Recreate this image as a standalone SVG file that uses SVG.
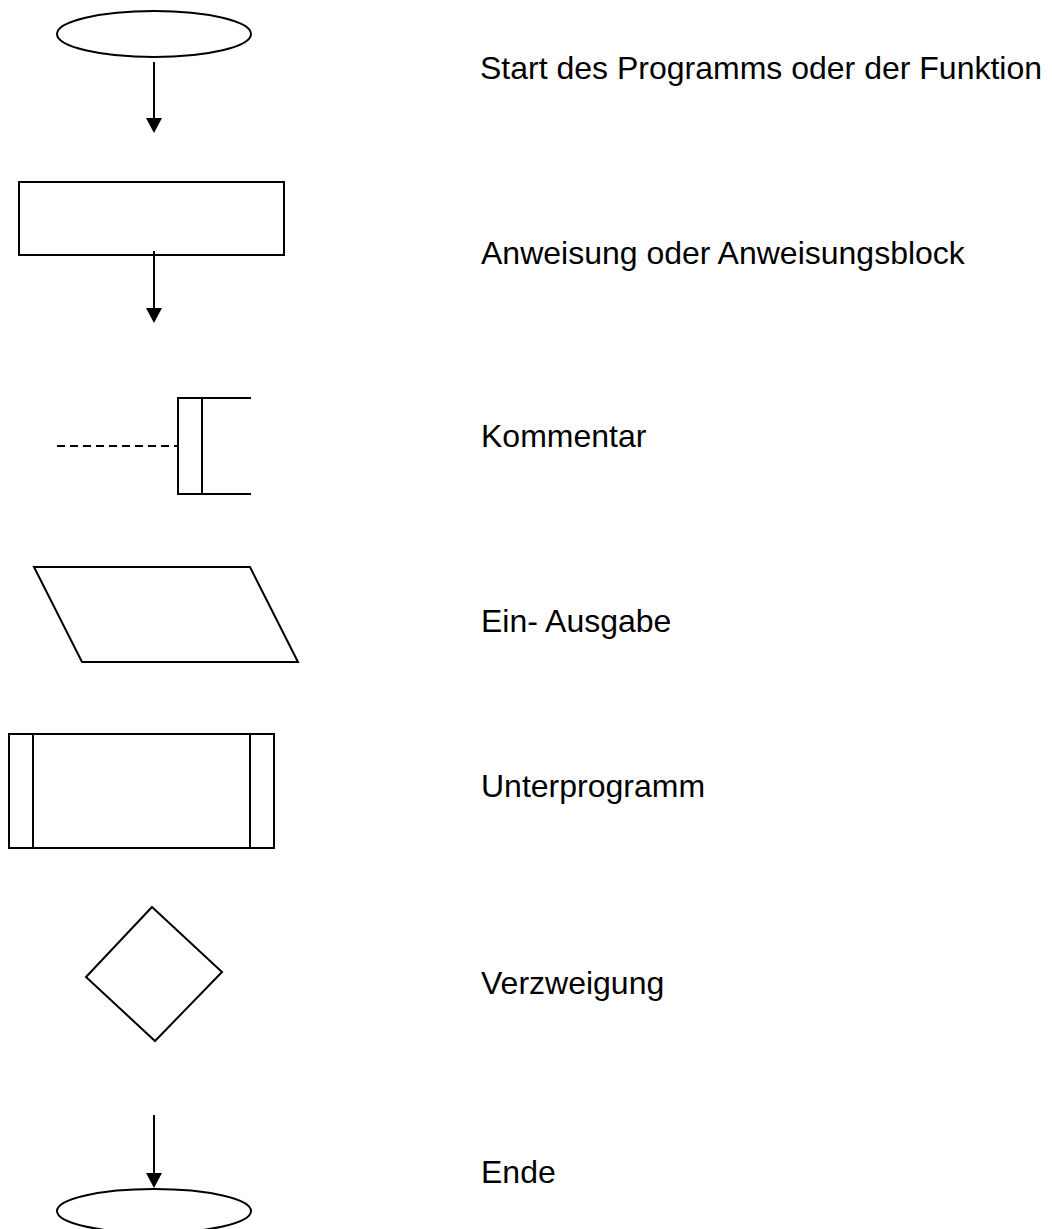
<svg xmlns="http://www.w3.org/2000/svg" width="1052" height="1229" viewBox="0 0 1052 1229">
  <style>
    .shape { fill: #ffffff; stroke: #000000; stroke-width: 2; }
    .line { fill: none; stroke: #000000; stroke-width: 2; }
    .dash { fill: none; stroke: #000000; stroke-width: 2; stroke-dasharray: 8 5; }
    .label { font-family: "Liberation Sans", Arial, sans-serif; font-size: 32px; fill: #000000; }
  </style>
  <defs>
    <!-- filled arrowhead; tip sits 4px beyond the line end -->
    <marker id="arrowhead" markerUnits="userSpaceOnUse" markerWidth="16" markerHeight="16" refX="11" refY="8" orient="auto" viewBox="0 0 16 16">
      <path d="M0,0 L15,8 L0,16 Z" fill="#000000"/>
    </marker>
  </defs>
  <rect x="0" y="0" width="1052" height="1229" fill="#ffffff"/>

  <!-- Start -->
  <g id="start">
    <ellipse class="shape" cx="154" cy="34" rx="97" ry="23"/>
  </g>

  <!-- Anweisung -->
  <g id="statement">
    <rect class="shape" x="19" y="182" width="265" height="73"/>
  </g>

  <!-- Kommentar -->
  <g id="comment">
    <path class="line" d="M251,398 H178 V494 H251 M202,398 V494"/>
  </g>

  <!-- Ein-/Ausgabe -->
  <g id="io">
    <polygon class="shape" points="34,567 250,567 298,662 82,662"/>
  </g>

  <!-- Unterprogramm -->
  <g id="subroutine">
    <rect class="shape" x="9" y="734" width="265" height="114"/>
    <path class="line" d="M33,734 V848 M250,734 V848"/>
  </g>

  <!-- Verzweigung -->
  <g id="decision">
    <polygon class="shape" points="152,907 222,972 155,1041 86,977"/>
  </g>

  <!-- Ende -->
  <g id="end">
    <ellipse class="shape" cx="154" cy="1211" rx="97" ry="22"/>
  </g>

  <!-- Verbindungen -->
  <g id="connectors">
    <line class="line" x1="154" y1="62" x2="154" y2="129" marker-end="url(#arrowhead)"/>
    <line class="line" x1="154" y1="251" x2="154" y2="319" marker-end="url(#arrowhead)"/>
    <line class="dash" x1="57" y1="446" x2="177" y2="446"/>
    <line class="line" x1="154" y1="1115" x2="154" y2="1184" marker-end="url(#arrowhead)"/>
  </g>

  <!-- Beschriftungen -->
  <g id="labels">
    <text class="label" x="480" y="79">Start des Programms oder der Funktion</text>
    <text class="label" x="481" y="264">Anweisung oder Anweisungsblock</text>
    <text class="label" x="481" y="447">Kommentar</text>
    <text class="label" x="481" y="632">Ein- Ausgabe</text>
    <text class="label" x="481" y="797">Unterprogramm</text>
    <text class="label" x="481" y="994">Verzweigung</text>
    <text class="label" x="481" y="1183">Ende</text>
  </g>
</svg>
